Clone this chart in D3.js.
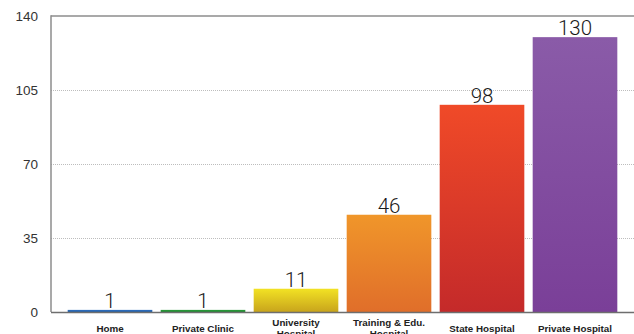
<!DOCTYPE html>
<html>
<head>
<meta charset="utf-8">
<script src="https://cdn.jsdelivr.net/npm/d3@7"></script>
<style>
  html, body { margin: 0; padding: 0; background: #fff; }
  svg { display: block; }
</style>
</head>
<body>
<svg id="chart" width="634" height="334"></svg>
<script>
// Place of birth counts
const categories = [["Home"], ["Private Clinic"], ["University", "Hospital"], ["Training & Edu.", "Hospital"], ["State Hospital"], ["Private Hospital"]];
const values = [1, 1, 11, 46, 98, 130];
const tickValues = [0, 35, 70, 105, 140];
const topColors = ["#2f6fc0", "#2a9a3a", "#f2e224", "#f0962a", "#f04a28", "#8a5ba8"];
const bottomColors = ["#2160a8", "#1f8a30", "#c8a41c", "#e06e2a", "#c42a2a", "#7a3f98"];

(function () {
  const svg = d3.select("#chart");
  const W = 634;
  const plotLeft = 51, plotTop = 16, plotBottom = 312;

  const y = d3.scaleLinear().domain([0, 140]).range([plotBottom, plotTop]);
  const x = d3.scaleBand()
    .domain(d3.range(values.length))
    .range([63.5, 621.5])
    .paddingInner(0.09)
    .paddingOuter(0.045);

  // gradients for the bars
  const defs = svg.append("defs");
  values.forEach((v, i) => {
    const g = defs.append("linearGradient")
      .attr("id", "g" + i).attr("x1", 0).attr("y1", 0).attr("x2", 0).attr("y2", 1);
    g.append("stop").attr("offset", "0%").attr("stop-color", topColors[i]);
    g.append("stop").attr("offset", "100%").attr("stop-color", bottomColors[i]);
  });

  // dotted grid lines
  svg.append("g").selectAll("line")
    .data(tickValues.filter(t => t > 0 && t < 140))
    .join("line")
    .attr("x1", plotLeft).attr("x2", W)
    .attr("y1", d => y(d) + 0.5).attr("y2", d => y(d) + 0.5)
    .attr("stroke", "#bdbdbd").attr("stroke-width", 1)
    .attr("stroke-dasharray", "1,1");

  // y axis labels
  const yAxis = d3.axisLeft(y).tickValues(tickValues).tickSize(0).tickPadding(13);
  const ya = svg.append("g").attr("transform", `translate(${plotLeft},0)`).call(yAxis);
  ya.select(".domain").remove();
  ya.selectAll("text")
    .attr("font-family", "'Liberation Sans', Arial, sans-serif")
    .attr("font-size", 13.5)
    .attr("fill", "#333");

  // bars
  svg.append("g").selectAll("rect")
    .data(values)
    .join("rect")
    .attr("x", (d, i) => x(i))
    .attr("width", x.bandwidth())
    .attr("y", d => y(d))
    .attr("height", d => y(0) - y(d))
    .attr("fill", (d, i) => `url(#g${i})`);

  // value labels
  svg.append("g").selectAll("text")
    .data(values)
    .join("text")
    .attr("x", (d, i) => x(i) + x.bandwidth() / 2)
    .attr("y", d => y(d) - 2)
    .attr("text-anchor", "middle")
    .attr("font-family", "Roboto, 'Liberation Sans', sans-serif")
    .attr("font-weight", 300)
    .attr("font-size", 20.5)
    .attr("fill", "#1a1a1a")
    .text(d => d);

  // frame: top line, left axis, baseline
  svg.append("line").attr("x1", plotLeft).attr("x2", W).attr("y1", plotTop).attr("y2", plotTop)
    .attr("stroke", "#8c8c8c").attr("stroke-width", 1.5);
  svg.append("line").attr("x1", plotLeft).attr("x2", plotLeft).attr("y1", plotTop - 0.75).attr("y2", plotBottom)
    .attr("stroke", "#8c8c8c").attr("stroke-width", 1.5);
  svg.append("line").attr("x1", plotLeft).attr("x2", W).attr("y1", plotBottom + 0.5).attr("y2", plotBottom + 0.5)
    .attr("stroke", "#6e6e6e").attr("stroke-width", 1.5);

  // category labels
  const cat = svg.append("g").selectAll("text")
    .data(categories)
    .join("text")
    .attr("text-anchor", "middle")
    .attr("font-family", "'Liberation Sans', Arial, sans-serif")
    .attr("font-weight", "bold")
    .attr("font-size", 9.8)
    .attr("fill", "#222");
  cat.each(function (lines, i) {
    const cx = x(i) + x.bandwidth() / 2;
    const base = lines.length === 1 ? 332 : 326;
    d3.select(this).selectAll("tspan")
      .data(lines)
      .join("tspan")
      .attr("x", cx)
      .attr("y", (d, j) => base + j * 10.5)
      .text(d => d);
  });
})();
</script>
</body>
</html>
